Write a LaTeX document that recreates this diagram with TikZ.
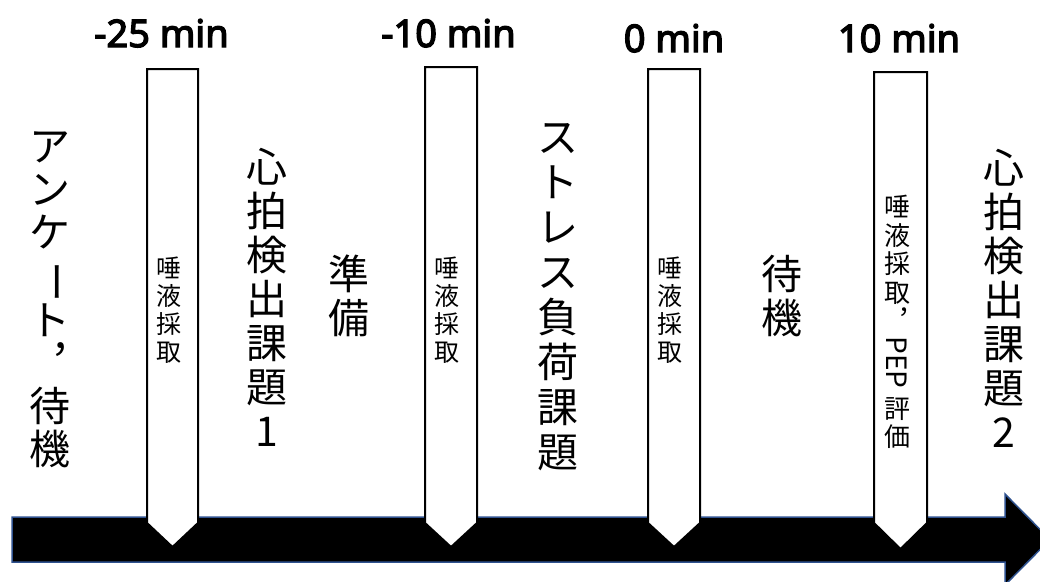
\documentclass[tikz,border=0pt]{standalone}
\usepackage{fontspec}
\usepackage{graphicx}
\newfontfamily\jpfont{Noto Sans CJK JP}
\newfontfamily\labfont{Noto Sans}[FakeBold=3.5]
\definecolor{arrowblue}{RGB}{47,82,143}
\newcommand{\vlong}{\rotatebox[origin=c]{-90}{ー}}
\newcommand{\vcomma}{︐}
\tikzset{
  big/.style={font=\jpfont\fontsize{41}{44}\selectfont, align=center, inner sep=0pt, anchor=north},
  small/.style={font=\jpfont\fontsize{25}{28}\selectfont, align=center, inner sep=0pt, anchor=north},
  timelabel/.style={font=\labfont\fontsize{38}{40}\selectfont, anchor=base, inner sep=0pt},
  callout/.style={draw=black, line width=2pt, fill=white, line join=miter},
  mainarrow/.style={fill=black, draw=arrowblue, line width=1.5pt, line join=miter},
}
\begin{document}
\begin{tikzpicture}[x=1pt, y=-1pt]
\useasboundingbox (0,0) rectangle (1040,581);
% main time arrow
\path[mainarrow] (12,517) -- (1005,517) -- (1005,494) -- (1050,539.5) -- (1005,585) -- (1005,562) -- (12,562) -- cycle;
% callouts
\path[callout] (147,69) -- (198,69) -- (198,523) -- (172.5,547) -- (147,523) -- cycle;
\path[callout] (425,67) -- (477,67) -- (477,523) -- (451,547) -- (425,523) -- cycle;
\path[callout] (648,69) -- (700,69) -- (700,523) -- (674,547) -- (648,523) -- cycle;
\path[callout] (874,72) -- (927,72) -- (927,523) -- (900.5,549) -- (874,523) -- cycle;
% time labels
\node[timelabel] (t1) at (161.5,47) {-25 min};
\node[timelabel] (t2) at (448.5,47) {-10 min};
\node[timelabel] (t3) at (674,52) {0 min};
\node[timelabel] (t4) at (899,52) {10 min};
% callout texts
\node[small] (s1) at (168.5,257) {唾\\液\\採\\取};
\node[small] (s2) at (447,257) {唾\\液\\採\\取};
\node[small] (s3) at (670,257) {唾\\液\\採\\取};
\node[small, font=\jpfont\fontsize{26}{28.5}\selectfont] (s4) at (897,195) {唾\\液\\採\\取\\\vcomma\\[5pt]\rotatebox[origin=c]{-90}{\fontsize{28}{28}\selectfont PEP}\\[8pt]評\\価};
% phase texts
\node[big, font=\jpfont\fontsize{41}{43}\selectfont] (p1) at (50,132) {ア\\ン\\ケ\\\vlong\\ト\\\vcomma\\待\\機};
\node[big] (p2) at (267,148) {心\\拍\\検\\出\\課\\題\\1};
\node[big] (p3) at (349,255) {準\\備};
\node[big, font=\jpfont\fontsize{41}{45}\selectfont] (p4) at (558,123) {ス\\ト\\レ\\ス\\負\\荷\\課\\題};
\node[big] (p5) at (782,255) {待\\機};
\node[big] (p6) at (1004,149) {心\\拍\\検\\出\\課\\題\\2};
\end{tikzpicture}
\end{document}
